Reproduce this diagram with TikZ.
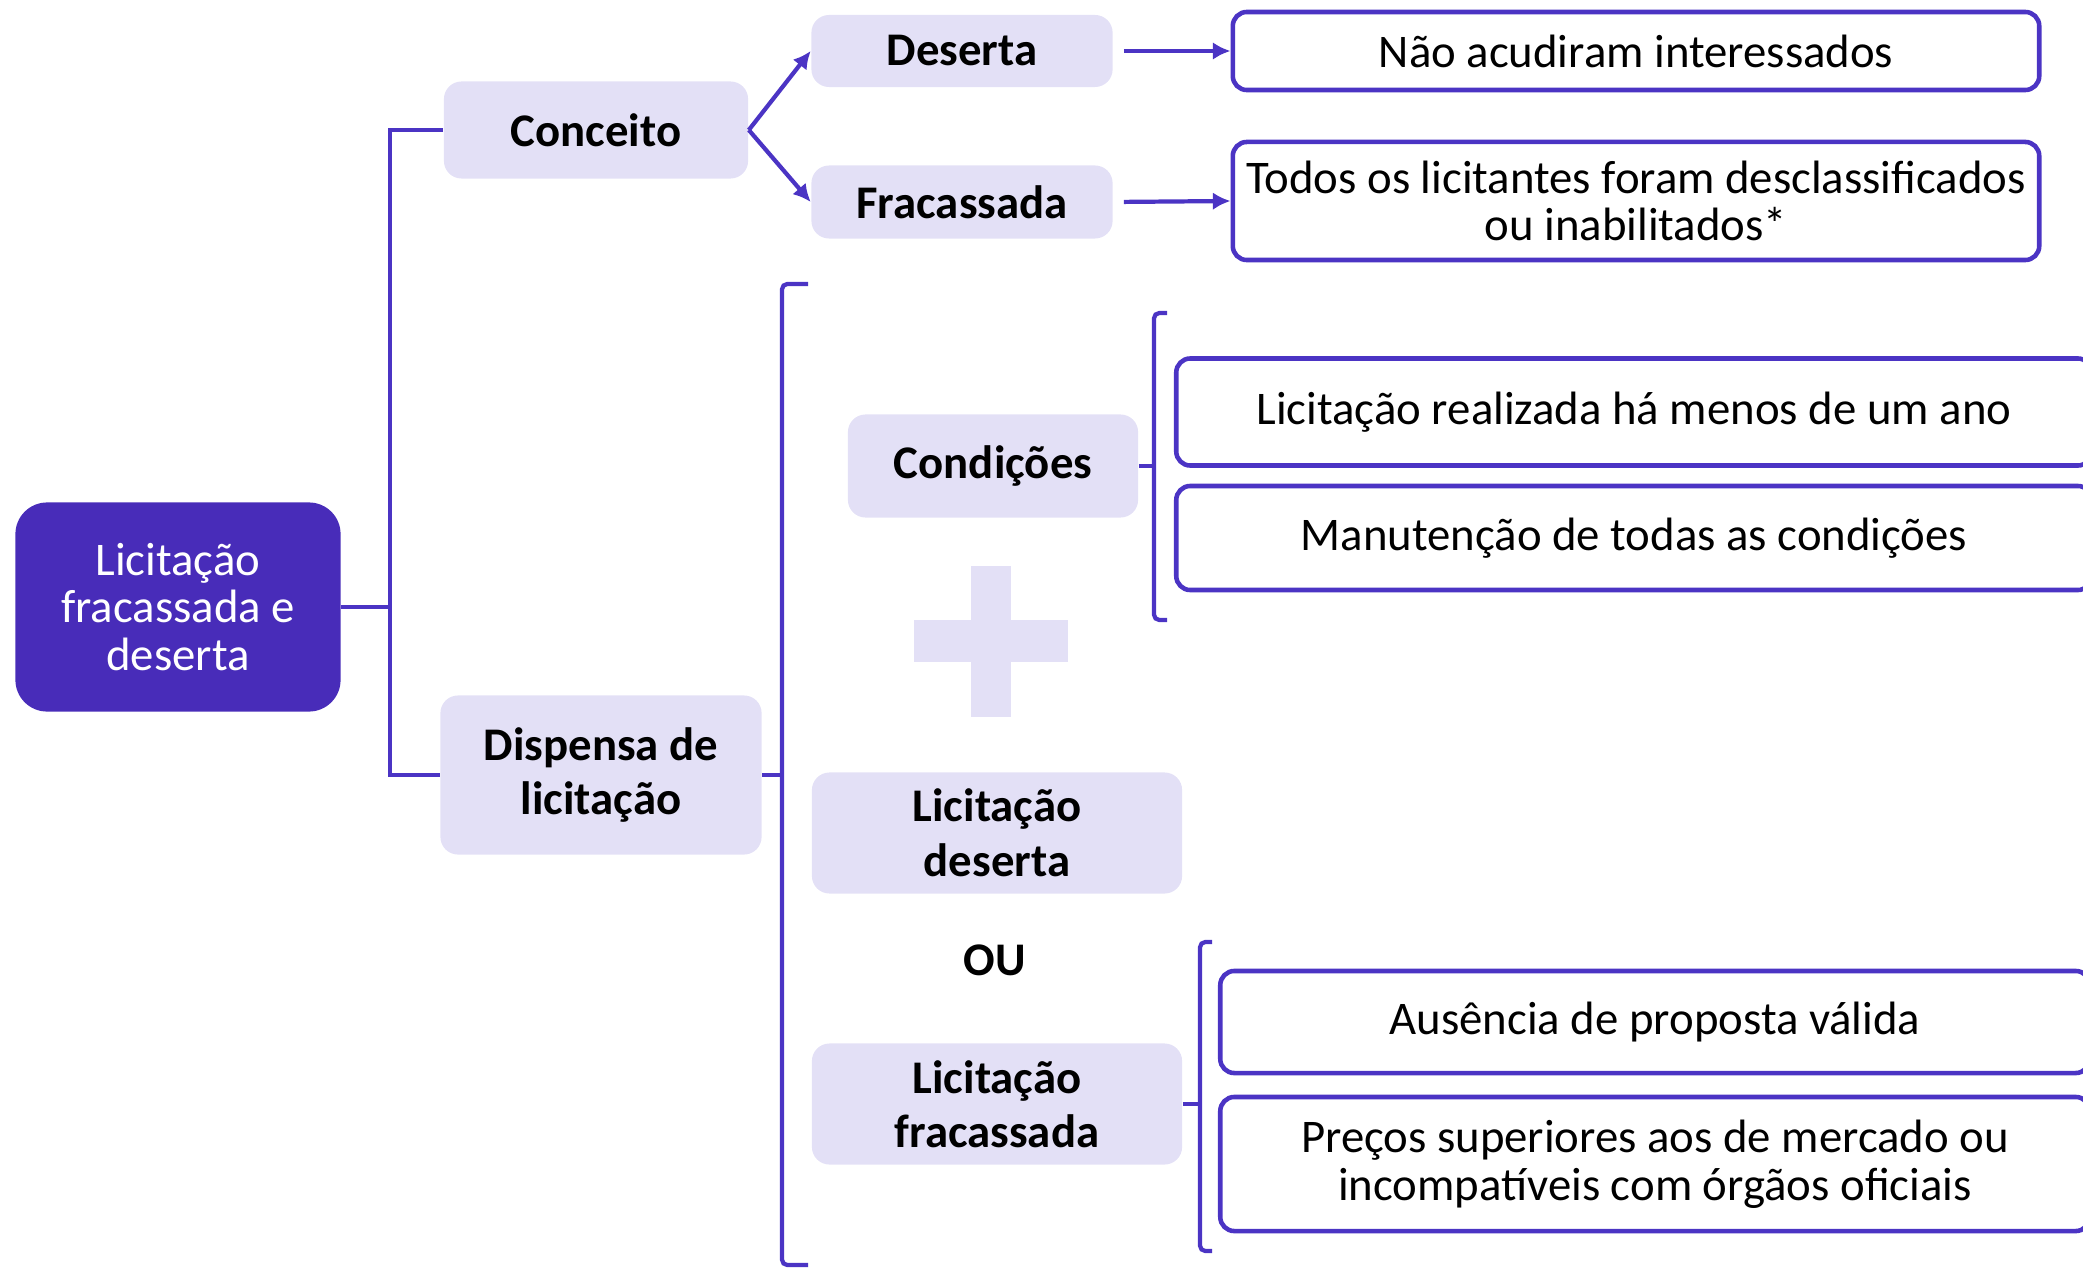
\documentclass[tikz,border=0pt]{standalone}
\usepackage{fontspec}
\setmainfont{Carlito}
\usepackage{tikz}
\usetikzlibrary{arrows.meta,calc}
\definecolor{roxo}{RGB}{72,44,185}
\definecolor{linha}{RGB}{75,52,196}
\definecolor{lilas}{RGB}{227,224,246}

\begin{document}
\begin{tikzpicture}[x=0.01cm,y=-0.01cm,
    termo/.style={fill=lilas,rounded corners=5pt,inner sep=0pt,align=center,font=\bfseries\fontsize{13.3}{15.5}\selectfont},
    nota/.style={draw=linha,line width=1.3pt,rounded corners=4pt,inner sep=0pt,align=center,font=\fontsize{13.3}{13.6}\selectfont},
    link/.style={draw=linha,line width=1.2pt},
    seta/.style={link,-{Latex[length=5pt,width=5pt]}},
    chave/.style={link,rounded corners=1.5pt}]
        \useasboundingbox (0,0) rectangle (2083,1267);
        % raiz
        \node[fill=roxo,rounded corners=9pt,text=white,align=center,minimum width=3.25cm,minimum height=2.09cm,font=\fontsize{13.3}{13.6}\selectfont] (raiz) at (178,607) {Licitação\\fracassada e\\deserta};
        % conceito
        \node[termo,minimum width=3.04cm,minimum height=0.97cm] (conceito) at (596,130) {Conceito};
        \node[termo,minimum width=3.01cm,minimum height=0.72cm] (deserta) at (962,51) {Deserta};
        \node[termo,minimum width=3.01cm,minimum height=0.73cm] (fracassada) at (962,202) {Fracassada};
        \node[nota,minimum width=8.06cm,minimum height=0.78cm] (nao) at (1636,51) {Não acudiram interessados};
        \node[nota,minimum width=8.06cm,minimum height=1.18cm] (todos) at (1636,201) {Todos os licitantes foram desclassificados\\ou inabilitados*};
        % dispensa
        \node[termo,minimum width=3.21cm,minimum height=1.59cm] (dispensa) at (601,775) {Dispensa de\\licitação};
        \node[termo,minimum width=2.90cm,minimum height=1.03cm] (condicoes) at (993,466) {Condições};
        \node[nota,minimum width=9.15cm,minimum height=1.07cm] (realizada) at (1634,412) {Licitação realizada há menos de um ano};
        \node[nota,minimum width=9.15cm,minimum height=1.04cm] (manutencao) at (1634,538) {Manutenção de todas as condições};
        \fill[lilas] (971,566) rectangle (1011,717);
        \fill[lilas] (914,620) rectangle (1068,662);
        \node[termo,minimum width=3.70cm,minimum height=1.21cm] (ldeserta) at (997,833) {Licitação\\deserta};
        \node[font=\bfseries\fontsize{13.3}{15}\selectfont] (ou) at (995,960) {OU};
        \node[termo,minimum width=3.70cm,minimum height=1.21cm] (lfracassada) at (997,1104) {Licitação\\fracassada};
        \node[nota,minimum width=8.69cm,minimum height=1.02cm] (ausencia) at (1655,1022) {Ausência de proposta válida};
        \node[nota,minimum width=8.69cm,minimum height=1.34cm] (precos) at (1655,1164) {Preços superiores aos de mercado ou\\incompatíveis com órgãos oficiais};
        % ligacoes
        \draw[link] (conceito.west) -- ++(-53,0) coordinate (tronco) |- (dispensa.west);
        \draw[link] (raiz.east) -- (raiz.east -| tronco);
        \draw[seta] (conceito.east) -- (deserta.west);
        \draw[seta] (conceito.east) -- (fracassada.west);
        \draw[seta,shorten <=3pt] (deserta.east) -- (nao.west);
        \draw[seta,shorten <=3pt] (fracassada.east) -- (todos.west);
        % chaves
        \draw[chave] (808,284) -- (782,284) -- (782,1265) -- (808,1265);
        \draw[link] (dispensa.east) -- (782,775);
        \draw[chave] (1167,313) -- (1154,313) -- (1154,620) -- (1167,620);
        \draw[link] (condicoes.east) -- (1154,466);
        \draw[chave] (1212,942) -- (1200,942) -- (1200,1251) -- (1212,1251);
        \draw[link] (lfracassada.east) -- (1200,1104);
\end{tikzpicture}
\end{document}
